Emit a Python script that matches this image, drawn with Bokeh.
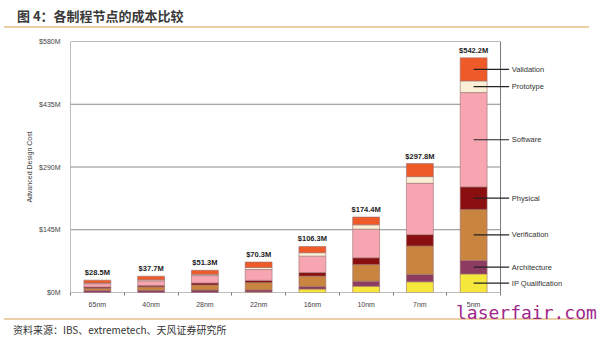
import numpy as np
from bokeh.plotting import figure
from bokeh.models import Range1d, FixedTicker, ColumnDataSource, Div
from bokeh.layouts import column
from bokeh.core.properties import value
from bokeh.embed import file_html
from bokeh.resources import INLINE

# ---- data ----
categories = ["65nm", "40nm", "28nm", "22nm", "16nm", "10nm", "7nm", "5nm"]
series_names = ["IP Qualification", "Architecture", "Verification", "Physical",
                "Software", "Prototype", "Validation"]
ip_qualification = [0, 0, 0, 1, 8, 14.6, 24.7, 43]
architecture = [4.5, 5, 5.5, 5, 6, 11.5, 17, 31]
verification = [5.5, 8, 12, 17, 24, 38.6, 66, 118]
physical = [2.5, 3, 4.5, 5, 8, 15.5, 26, 52]
software = [8, 11, 17, 25, 38, 66.1, 118.6, 218]
prototype = [1.5, 2.5, 3, 5, 8, 10.1, 15.4, 27]
validation = [6.5, 8.2, 9.3, 12.3, 14.3, 18, 30.1, 53.2]
total_labels = ["$28.5M", "$37.7M", "$51.3M", "$70.3M", "$106.3M", "$174.4M", "$297.8M", "$542.2M"]
y_ticks = [0, 145, 290, 435, 580]
y_tick_labels = ["$0M", "$145M", "$290M", "$435M", "$580M"]
colors = ["#F6E73C", "#8E3B62", "#C98440", "#8A0F10", "#F8A5B2", "#FBEFD6", "#EF5A29"]

series = [ip_qualification, architecture, verification, physical, software, prototype, validation]
keys = ["s%d" % i for i in range(len(series))]
xs = list(range(len(categories)))
data = {"x": xs, "cat": categories}
for k, s in zip(keys, series):
    data[k] = s
arr = np.array(series)
totals = arr.sum(axis=0)
data["total"] = totals.tolist()
data["tlabel"] = total_labels
source = ColumnDataSource(data)

FONT = "Liberation Sans"
CJK = "Noto Sans CJK SC"
TAN = "#EBCFA6"

p = figure(width=600, height=290, output_backend="svg", toolbar_location=None,
           x_range=Range1d(-0.5, 9.267), y_range=Range1d(0, 580),
           min_border_left=70, min_border_right=5, min_border_top=13, min_border_bottom=26)
p.outline_line_color = None
p.xgrid.visible = False
p.ygrid.visible = False
p.background_fill_color = "white"

# plot box and gridlines (only over category area)
n = len(categories)
p.quad(left=[-0.5], right=[n - 0.5], bottom=[y_ticks[0]], top=[y_ticks[-1]],
       fill_color=None, line_color="#7a7a7a", line_width=1)
gy = y_ticks[1:-1]
p.segment(x0=[-0.5] * len(gy), x1=[n - 0.5] * len(gy), y0=gy, y1=gy,
          line_color="#8a8a8a", line_width=1)

# stacked bars
p.vbar_stack(keys, x="x", width=0.5, source=source, fill_color=colors,
             line_color="#9a7070", line_width=0.6)

# total labels
p.text(x="x", y="total", text="tlabel", source=source, text_align="center",
       text_baseline="bottom", y_offset=-3, text_font=value(FONT),
       text_font_style="bold", text_font_size="7.5px", text_color="#222222")

# leader lines and series labels for the last bar
last = arr[:, -1]
cum = np.cumsum(last)
mids = (cum - last / 2).tolist()
li = n - 1
p.segment(x0=[li] * len(mids), x1=[li + 0.66] * len(mids), y0=mids, y1=mids,
          line_color="#222222", line_width=1.2)
p.text(x=[li + 0.71] * len(mids), y=mids, text=series_names, text_align="left",
       text_baseline="middle", text_font=value(FONT), text_font_size="7.5px",
       text_color="#333333")

# axes
p.yaxis.ticker = FixedTicker(ticks=y_ticks)
p.yaxis.major_label_overrides = {t: l for t, l in zip(y_ticks, y_tick_labels)}
p.yaxis.axis_line_color = None
p.yaxis.major_tick_line_color = None
p.yaxis.minor_tick_line_color = None
p.yaxis.major_label_text_font = FONT
p.yaxis.major_label_text_font_size = "7px"
p.yaxis.major_label_text_color = "#444444"
p.yaxis.major_label_standoff = 4
p.yaxis.axis_label = "Advanced Design Cost"
p.yaxis.axis_label_text_font = FONT
p.yaxis.axis_label_text_font_size = "7px"
p.yaxis.axis_label_text_font_style = "normal"
p.yaxis.axis_label_text_color = "#444444"
p.yaxis.axis_label_standoff = 3

p.xaxis.ticker = FixedTicker(ticks=xs, minor_ticks=[i - 0.5 for i in range(n + 1)])
p.xaxis.major_label_overrides = {i: c for i, c in enumerate(categories)}
p.xaxis.axis_line_color = None
p.xaxis.major_tick_line_color = None
p.xaxis.minor_tick_line_color = "#7a7a7a"
p.xaxis.minor_tick_in = 0
p.xaxis.minor_tick_out = 3
p.xaxis.major_label_text_font = FONT
p.xaxis.major_label_text_font_size = "7px"
p.xaxis.major_label_text_color = "#444444"
p.xaxis.major_label_standoff = 2

title = Div(text="图 4：各制程节点的成本比较", width=600, height=28, margin=0,
            styles={"box-sizing": "border-box", "border-bottom": "2px solid " + TAN,
                    "padding-left": "13px", "padding-top": "8px", "line-height": "16px",
                    "font-family": CJK, "font-size": "13px", "font-weight": "bold",
                    "color": "#3a3a3a", "width": "585px", "margin-left": "4px"})
src_html = ("资料来源：IBS、extremetech、天风证券研究所"
            "<span style=\"position:absolute; left:452px; top:-18px; "
            "font-family:'DejaVu Sans Mono'; font-size:18px; line-height:21px; "
            "color:#A0268A; white-space:nowrap;\">laserfair.com</span>")
src = Div(text=src_html, width=600, height=23, margin=0,
          styles={"box-sizing": "border-box", "border-top": "2px solid " + TAN,
                  "padding-left": "9px", "padding-top": "3px", "line-height": "14px",
                  "font-family": CJK, "font-size": "10px", "position": "relative",
                  "overflow": "visible", "z-index": "5",
                  "color": "#333333", "width": "585px", "margin-left": "4px"})

layout = column(title, p, src, spacing=0, margin=0)
out = file_html(layout, INLINE)
open("out.html", "w").write(out)
